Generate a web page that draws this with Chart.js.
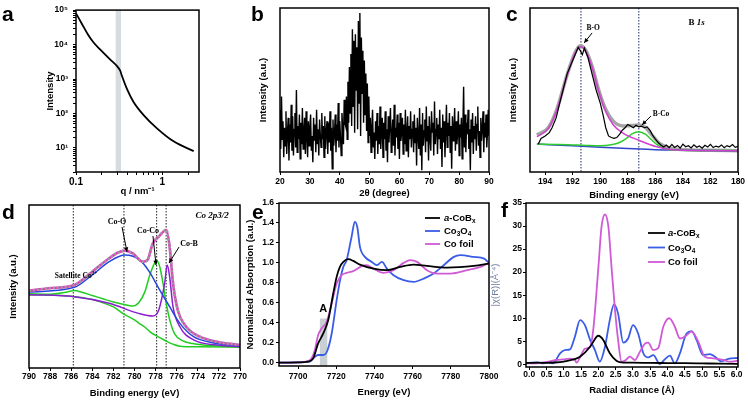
<!DOCTYPE html>
<html><head><meta charset="utf-8">
<script src="https://cdn.jsdelivr.net/npm/chart.js@4.4.1/dist/chart.umd.min.js"></script>
<style>
html,body{margin:0;padding:0;background:#fff;}
#wrap{position:relative;width:748px;height:400px;overflow:hidden;background:#fff;}
canvas{position:absolute;left:0;top:0;}
.lbl{position:absolute;font-family:"Liberation Sans",Arial,sans-serif;font-weight:bold;font-size:21px;line-height:21px;color:#000;}
</style></head><body>
<div id="wrap">
<canvas id="ca" width="748" height="400"></canvas>
<canvas id="cb" width="748" height="400"></canvas>
<canvas id="cc" width="748" height="400"></canvas>
<canvas id="cd" width="748" height="400"></canvas>
<canvas id="ce" width="748" height="400"></canvas>
<canvas id="cf" width="748" height="400"></canvas>
<div class="lbl" style="left:2px;top:3px">a</div>
<div class="lbl" style="left:251px;top:3px">b</div>
<div class="lbl" style="left:506px;top:3px">c</div>
<div class="lbl" style="left:2px;top:201px">d</div>
<div class="lbl" style="left:252px;top:201px">e</div>
<div class="lbl" style="left:501px;top:199px">f</div>
</div>
<script>
// ================= DATA =================
// (a) SAXS
const A_Q = [0.1, 0.116, 0.138, 0.159, 0.19, 0.248, 0.297, 0.325, 0.34, 0.389, 0.464, 0.607, 0.867, 1.35, 2.31];
const A_I = [80500, 41700, 19300, 11700, 7200, 3700, 2400, 1740, 1250, 518, 216, 90, 37, 15.5, 8.05];
const A_BAND_Q = [0.288, 0.332];
const A_X_TICKS = [0.1,0.2,0.3,0.4,0.5,0.6,0.7,0.8,0.9,1,2];
const A_X_LABELS = ['0.1','','','','','','','','','1',''];
const A_Y_DECADES = [10,100,1000,10000,100000];
const A_Y_LABELS = ['10¹','10²','10³','10⁴','10⁵'];

// (b) XRD, 2theta from 20 to 90 in 0.25 deg steps
const B_START = 20, B_STEP = 0.25;
const B_COUNTS = [
38,14,46,20,31,9,27,16,37,11, 24,33,7,29,18,41,13,34,10,26, 36,15,50,12,28,20,35,8,30,17,
39,14,25,33,11,37,21,9,31,16, 27,35,13,22,6,33,19,29,12,38, 17,26,10,32,23,15,36,20,28,9,
34,14,25,31,11,30,18,37,13,27, 2,32,16,23,35,12,29,19,42,15, 31,22,10,36,26,17,44,30,
28,46,20,55,30,64,36,72,28,87, 40,80,24,84,50,76,26,92,42,97, 22,82,48,74,30,68,35,60,25,54, 18,46,22,
33,12,27,38,15,24,8,31,19,36, 11,28,17,40,14,25,33,9,30,20, 37,13,26,6,34,18,29,39,12,23,
32,16,41,10,27,21,35,14,30,8, 36,19,25,33,11,29,17,38,13,24, 34,9,28,20,37,15,26,31,12,35,
18,27,4,33,22,14,39,10,29,1, 36,16,25,32,12,40,19,28,7,34, 21,13,37,24,30,10,43,17,26,33,
11,29,20,38,14,27,3,35,18,31, 9,25,41,15,30,22,36,12,28,2, 34,19,26,39,13,31,17,24,37,10,
29,21,33,8,27,52,15,35,12,30, 23,38,14,26,1,32,18,36,11,28, 20,34,13,29,40,16,25,9,33,19,
27,37,12,30,21,35,15,24,38,22];
const B_X_TICKS = [20,30,40,50,60,70,80,90];

// (c) B 1s XPS
const C_RAW_E = [194.5,194.3,194.0,193.7,193.5,193.2,193.0,192.7,192.4,192.1,191.8,191.6,191.45,191.3,191.15,190.9,190.6,190.3,190.0,
189.8,189.6,189.4,189.2,189.0,188.8,188.6,188.4,188.2,188.0,187.8,187.6,187.4,187.2,187.0,186.8,186.6,186.4,186.2,186.0,185.8,185.6,
185.4,185.2,185.0,184.8,184.6,184.4,184.2,184.0,183.8,183.6,183.4,183.2,183.0,182.8,182.6,182.4,182.2,182.0,181.8,181.6,181.4,181.2,181.0,180.8,180.6,180.4,180.2,180.0];
const C_RAW_V = [17,20.5,22,24,27,33,40,50,60,66,72,76,74,71.5,75.5,70,60,50,42,
35,27,22,21,20.5,21,23,25.5,27,29,28,27,28.5,27.5,28,27,27.5,25.5,22.5,20,18,16.5,
15.2,16.4,14.8,16.8,15.0,16.2,14.6,17.0,15.4,16.0,14.7,16.6,15.1,15.9,14.5,16.3,15.3,16.9,14.9,15.8,15.2,16.5,14.8,16.1,15.4,16.7,15.0,15.6];
const C_FIT_E = [194.6,193.76,193.15,192.43,191.83,191.46,191.1,190.6,190.14,189.65,189.05,188.33,187.8,187.24,186.7,186.2,185.7,185.0,184.3,182,180];
const C_FIT_V = [22.5,27.2,38.2,58.6,72.8,77.0,74.9,64.7,50.8,39.0,31.0,28.0,28.3,28.6,27.0,22.0,17.5,14.8,13.8,13.2,13.0];
const C_BO_E = [194.6,193.76,193.15,192.43,191.83,191.46,191.1,190.6,190.14,189.65,189.05,188.33,187.24,185.9,184.46,180];
const C_BO_V = [21.5,26.6,37.8,58.1,72.4,76.4,74.4,64.2,50,37.8,28.7,23.6,19.5,15.4,13.4,13.0];
const C_BCO_E = [194.6,193,192,191,190,189.2,188.6,188.1,187.7,187.2,186.7,186.3,185.8,185.3,184.5,182,180];
const C_BCO_V = [17.0,16.8,16.5,16.2,16.0,16.6,18.0,20.5,23.2,24.6,23.0,19.8,16.2,14.2,13.3,13.1,13.0];
const C_BG_E = [194.6,192,190,188,186,184,182,180];
const C_BG_V = [17.0,16.0,15.1,14.3,13.6,13.3,13.1,13.0];
const C_LINES = [191.4, 187.2];
const C_X_TICKS = [194,192,190,188,186,184,182,180];

// (d) Co 2p3/2 XPS
const D_EXP_E = [790,788.1,785.7,784.0,782.4,781.5,780.9,780.16,779.2,778.76,778.26,777.7,777.0,776.67,776.35,775.9,775.1,773.8,772.2,770];
const D_EXP_V = [47.4,48.9,50.9,59.1,67.3,71.0,72.0,70.3,65.2,66.3,76.5,80.6,84.7,74.4,52,35.6,25.3,19.2,16.1,14.1];
const D_COO_E = [790,785.7,784.0,782.4,780.9,779.5,778.6,777.7,776.67,775.7,774.4,772.6,770];
const D_COO_V = [46.6,49.5,57.1,65.2,69.3,66.3,59.1,48.9,37.6,27.4,19.2,15.5,13.7];
const D_COB_E = [790,785.7,782.4,779.6,778.26,777.7,777.14,776.9,776.67,776.35,775.7,774.4,772.2,770];
const D_COB_V = [45.0,43.7,39.7,33.5,31.9,35.6,52,63.2,56,37.6,25.3,17.2,14.1,13.1];
const D_COCO_E = [790,788,786.5,785.7,785,784,783,782,781,780.2,779.6,779,778.6,778.2,777.9,777.6,777.3,777.0,776.6,776.2,775.5,774.5,773,770];
const D_COCO_V = [45.5,45.3,46.5,47.5,46.5,44.5,42.5,40.5,39,38,40,47,56,63,66,62,52,40,28,21,17,15,13.8,13.2];
const D_BG_E = [790,788,786,784,783,782,781,780,779.6,779,778.5,777.7,777,776.3,775.7,774,770];
const D_BG_V = [45,44.8,44,42,40,37.5,33,29.5,27.6,25,22,19,16.5,14.5,13.4,13,12.8];
const D_LINES = [785.8, 781.0, 777.9, 777.0];
const D_X_TICKS = [790,788,786,784,782,780,778,776,774,772,770];

// (e) XANES
const E_COBX_E = [7690,7700,7705,7707.9,7710.5,7713.2,7715.8,7718.4,7720.2,7721.9,7723.7,7726.3,7728.9,7732.4,7739.5,7746.5,7753.5,7760.5,7767.5,7778.1,7792.1,7800];
const E_COBX_V = [0,0.003,0.01,0.043,0.193,0.293,0.427,0.693,0.86,0.96,1.01,1.037,1.02,0.983,0.943,0.927,0.96,0.983,0.97,0.953,0.97,0.993];
const E_CO3O4_E = [7690,7700,7706,7708.8,7710.5,7713.2,7715.3,7717.6,7720.2,7722,7723.7,7725.4,7728,7729.7,7731,7732.4,7735,7738.6,7741.2,7743.9,7746.5,7750,7755.3,7760.5,7765.8,7771,7776.3,7781.6,7785,7792.1,7797.4,7800];
const E_CO3O4_V = [0,0.003,0.01,0.06,0.077,0.077,0.12,0.293,0.627,0.827,0.96,1.027,1.26,1.41,1.36,1.16,1.06,1.01,0.977,1.01,0.943,0.877,0.827,0.81,0.843,0.893,0.977,1.06,1.077,1.06,1.043,1.0];
const E_FOIL_E = [7690,7700,7704,7707,7708.8,7710.5,7712.3,7715,7717.6,7720.2,7722.8,7725.4,7728.9,7733.3,7735.9,7739.5,7744.7,7750,7755.3,7758.8,7762.3,7767.5,7772.8,7779.8,7788.6,7795.6,7800];
const E_FOIL_V = [0,0.003,0.01,0.043,0.127,0.277,0.343,0.41,0.593,0.793,0.877,0.9,0.917,0.967,0.977,0.943,0.9,0.927,1.0,1.027,1.01,0.927,0.893,0.893,0.927,0.96,1.0];
const E_BAND = [7711.4, 7715.3, 0.443];
const E_X_TICKS = [7700,7720,7740,7760,7780,7800];
const E_Y_TICKS = [0,0.2,0.4,0.6,0.8,1.0,1.2,1.4,1.6];
const E_Y_LABELS = ['0.0','0.2','0.4','0.6','0.8','1.0','1.2','1.4','1.6'];

// (f) FT-EXAFS
const F_COBX_R = [-0.12,0,0.25,0.5,0.75,1.0,1.08,1.25,1.47,1.76,1.95,2.0,2.14,2.33,2.53,2.72,3.0,3.5,4.0,4.5,5.0,5.5,6.04];
const F_COBX_V = [0.3,0.3,0.35,0.3,0.4,0.6,0.72,1.0,1.66,3.8,6.0,6.2,5.3,2.4,0.72,0.36,0.35,0.3,0.28,0.25,0.2,0.15,0.1];
const F_CO3O4_R = [-0.12,0,0.21,0.4,0.55,0.69,0.89,1.03,1.18,1.32,1.47,1.61,1.76,1.9,2.04,2.19,2.33,2.45,2.57,2.72,2.86,3.0,3.15,3.3,3.44,3.59,3.78,3.92,4.07,4.21,4.36,4.55,4.7,4.84,5.03,5.23,5.37,5.56,5.76,6.04];
const F_CO3O4_V = [0.2,0.3,0.43,0.2,0.5,0.2,2.4,3.1,3.25,6.0,9.6,8.5,5.3,3.1,0.58,3.8,9.6,13.0,11.0,4.7,5.6,8.5,6.7,2.4,1.5,2.0,0.07,1.08,1.9,0.2,2.4,6.7,7.2,5.3,2.0,2.2,1.66,0.65,1.2,1.37];
const F_FOIL_R = [-0.12,0.2,0.55,0.79,0.98,1.18,1.32,1.37,1.51,1.61,1.76,1.85,2.0,2.09,2.19,2.29,2.38,2.48,2.57,2.67,2.77,2.91,3.06,3.2,3.35,3.44,3.59,3.73,3.88,4.05,4.21,4.36,4.5,4.7,4.89,5.08,5.32,5.61,5.8,6.04];
const F_FOIL_V = [0.2,0.2,0.58,0.94,1.08,1.23,0.94,0.36,2.2,3.4,3.8,7.4,21.1,29.8,32.5,29.8,21.1,11.8,5.3,0.58,0.8,1.66,0.94,2.7,4.5,4.7,3.1,3.5,8.2,10.0,8.2,5.6,6.0,7.1,4.9,1.66,1.3,0.94,0.58,0.8];
const F_X_TICKS = [0,0.5,1,1.5,2,2.5,3,3.5,4,4.5,5,5.5,6];
const F_X_LABELS = ['0.0','0.5','1.0','1.5','2.0','2.5','3.0','3.5','4.0','4.5','5.0','5.5','6.0'];
const F_Y_TICKS = [0,5,10,15,20,25,30,35];

// ================= RENDERING =================
const W = 748, H = 400;
const FONT = '"Liberation Sans", Arial, sans-serif';
const SERIF = '"Liberation Serif", "DejaVu Serif", serif';
const TS = 9.5;

function drawRich(ctx, segs, x, yc, size, family, weight, color, align){
  const fnt = (st, sz) => (st.includes('i') ? 'italic ' : '') + (weight||'normal') + ' ' + sz + 'px ' + family;
  let total = 0;
  const parts = segs.map(([t, st]) => {
    st = st || '';
    const sz = (st.includes('s') || st.includes('u')) ? size * 0.68 : size;
    ctx.font = fnt(st, sz);
    const w = ctx.measureText(t).width; total += w;
    return {t, st, sz, w};
  });
  let cx = align === 'left' ? x : align === 'right' ? x - total : x - total / 2;
  const base = yc + size * 0.35;
  ctx.fillStyle = color || '#000';
  ctx.textBaseline = 'alphabetic'; ctx.textAlign = 'left';
  parts.forEach(p => {
    ctx.font = fnt(p.st, p.sz);
    const dy = p.st.includes('s') ? size * 0.22 : p.st.includes('u') ? -size * 0.4 : 0;
    ctx.fillText(p.t, cx, base + dy);
    cx += p.w;
  });
}

const extras = {
  id: 'extras',
  beforeDatasetsDraw(chart, args, o){
    const {ctx, chartArea: a, scales: {x, y}} = chart;
    ctx.save();
    ctx.beginPath(); ctx.rect(a.left, a.top, a.right - a.left, a.bottom - a.top); ctx.clip();
    (o.bands || []).forEach(b => {
      const X0 = x.getPixelForValue(b.x0), X1 = x.getPixelForValue(b.x1);
      const Y0 = b.y0 == null ? a.bottom : y.getPixelForValue(b.y0);
      const Y1 = b.y1 == null ? a.top : y.getPixelForValue(b.y1);
      ctx.fillStyle = b.color;
      ctx.fillRect(Math.min(X0, X1), Math.min(Y0, Y1), Math.abs(X1 - X0), Math.abs(Y1 - Y0));
    });
    (o.vlines || []).forEach(v => {
      const X = x.getPixelForValue(v.x);
      ctx.strokeStyle = v.color; ctx.lineWidth = v.width || 1; ctx.setLineDash(v.dash || []);
      ctx.beginPath(); ctx.moveTo(X, a.top); ctx.lineTo(X, a.bottom); ctx.stroke();
    });
    ctx.restore();
  },
  afterDatasetsDraw(chart, args, o){
    const {ctx, chartArea: a, scales: {x, y}} = chart;
    ctx.save();
    (o.arrows || []).forEach(r => {
      const x0 = x.getPixelForValue(r.x0), y0 = y.getPixelForValue(r.y0);
      const x1 = x.getPixelForValue(r.x1), y1 = y.getPixelForValue(r.y1);
      ctx.strokeStyle = '#000'; ctx.fillStyle = '#000'; ctx.lineWidth = 1;
      ctx.beginPath(); ctx.moveTo(x0, y0); ctx.lineTo(x1, y1); ctx.stroke();
      const ang = Math.atan2(y1 - y0, x1 - x0), L = 5, wd = 0.45;
      ctx.beginPath(); ctx.moveTo(x1, y1);
      ctx.lineTo(x1 - L * Math.cos(ang - wd), y1 - L * Math.sin(ang - wd));
      ctx.lineTo(x1 - L * Math.cos(ang + wd), y1 - L * Math.sin(ang + wd));
      ctx.closePath(); ctx.fill();
    });
    (o.texts || []).forEach(t => {
      drawRich(ctx, t.segs, x.getPixelForValue(t.x), y.getPixelForValue(t.y), t.size, t.family || SERIF, t.weight || 'bold', t.color, t.align);
    });
    if (o.legend){
      const L = o.legend;
      L.items.forEach((it, i) => {
        const yy = a.top + L.dy + i * L.gap;
        const xx = a.left + L.dx;
        ctx.strokeStyle = it.color; ctx.lineWidth = 1.8; ctx.setLineDash([]);
        ctx.beginPath(); ctx.moveTo(xx, yy); ctx.lineTo(xx + L.len, yy); ctx.stroke();
        drawRich(ctx, it.segs, xx + L.len + L.tg, yy, L.size, FONT, 'bold', '#000', 'left');
      });
    }
    ctx.strokeStyle = '#000'; ctx.lineWidth = 1.5; ctx.setLineDash([]);
    ctx.strokeRect(a.left, a.top, a.right - a.left, a.bottom - a.top);
    ctx.restore();
  }
};

function axis(o){
  const ax = {
    type: o.type || 'linear', min: o.min, max: o.max, reverse: !!o.reverse,
    ticks: {display: !!o.ticks, autoSkip: false, maxRotation: 0, minRotation: 0, padding: o.pad == null ? 1 : o.pad, color: '#000',
      font: {family: FONT, size: o.size || 8.5, weight: 'bold'},
      callback: (v, i) => o.labels ? o.labels[i] : String(v)},
    grid: {display: !!o.ticks, drawOnChartArea: false, drawTicks: true, tickLength: o.tl == null ? 3 : o.tl, color: '#000', lineWidth: 1},
    border: {display: false},
    title: {display: !!o.title, text: o.title, color: o.titleColor || '#000', padding: 0,
      font: {family: FONT, size: TS, weight: o.titleWeight || 'bold'}}
  };
  if (o.ticks) ax.afterBuildTicks = s => { s.ticks = o.ticks.map(v => ({value: v})); };
  if (o.callback) ax.ticks.callback = o.callback;
  return ax;
}

function ds(xs, ys, color, width, extra){
  return Object.assign({data: xs.map((x, i) => ({x, y: ys[i]})), borderColor: color, borderWidth: width,
    pointRadius: 0, fill: false, cubicInterpolationMode: 'monotone'}, extra || {});
}

function mk(id, g, xAx, yAx, datasets, ex){
  const lh = TS * 1.2;
  const padL = g.ytx - lh / 2, padB = H - (g.xty + lh / 2);
  xAx.afterFit = s => { s.height = (H - padB) - g.b; };
  yAx.afterFit = s => { s.width = g.l - padL; };
  return new Chart(document.getElementById(id), {
    type: 'line',
    data: {datasets},
    options: {responsive: false, maintainAspectRatio: false, animation: false, devicePixelRatio: 1,
      layout: {padding: {left: padL, top: g.t, right: W - g.r, bottom: padB}},
      scales: {x: xAx, y: yAx},
      plugins: {legend: {display: false}, tooltip: {enabled: false}, extras: ex || {}},
      elements: {point: {radius: 0, hoverRadius: 0}}
    },
    plugins: [extras]
  });
}

// ---- panel a
const aMinor = [];
[1, 10, 100, 1000, 10000].forEach(d => { for (let m = 1; m <= 9; m++) { const v = m * d; if (v >= 2 && v <= 100000) aMinor.push(A_Y_DECADES.includes(v) ? v : Math.round(v)); } });
aMinor.push(100000);
mk('ca', {l: 76, t: 9, r: 199, b: 172, ytx: 50, xty: 191},
  axis({type: 'logarithmic', min: 0.1, max: 2.66, ticks: A_X_TICKS, labels: A_X_LABELS, size: 10, tl: 3, pad: 1, title: 'q / nm⁻¹'}),
  axis({type: 'logarithmic', min: 2.0, max: 100000, ticks: aMinor, tl: 3, pad: 5, title: 'Intensity',
    callback: v => { const i = A_Y_DECADES.indexOf(v); return i >= 0 ? A_Y_LABELS[i] : ''; }}),
  [ds(A_Q, A_I, '#000', 1.8)],
  {bands: [{x0: A_BAND_Q[0], x1: A_BAND_Q[1], color: '#d6dce0'}]});

// ---- panel b
mk('cb', {l: 280, t: 8, r: 489, b: 172, ytx: 263, xty: 193},
  axis({min: 20, max: 90, ticks: B_X_TICKS, tl: 3, pad: 2, title: '2θ (degree)'}),
  axis({min: 0, max: 100, title: 'Intensity (a.u.)'}),
  [ds(B_COUNTS.map((_, i) => B_START + i * B_STEP), B_COUNTS, '#000', 1.4, {cubicInterpolationMode: 'default', tension: 0})]);

// ---- panel c
mk('cc', {l: 530, t: 8, r: 738, b: 172, ytx: 513, xty: 195},
  axis({min: 180, max: 195.1, reverse: true, ticks: C_X_TICKS, tl: 3, pad: 2, title: 'Binding energy (eV)'}),
  axis({min: 0, max: 100, title: 'Intensity (a.u.)'}),
  [ds(C_RAW_E, C_RAW_V, '#000', 1.2, {cubicInterpolationMode: 'default', tension: 0}),
   ds(C_BO_E, C_BO_V, '#d040d0', 1.5),
   ds(C_BCO_E, C_BCO_V, '#2fcc2f', 1.5),
   ds(C_BG_E, C_BG_V, '#3344cc', 1.5),
   ds(C_FIT_E, C_FIT_V, '#a5a5a5', 3.5)],
  {vlines: C_LINES.map(v => ({x: v, color: '#1c2a60', width: 1, dash: [1.5, 1.5]})),
   texts: [
     {x: 190.52, y: 88.4, segs: [['B-O', '']], size: 7.5},
     {x: 185.59, y: 36, segs: [['B-Co', '']], size: 7.5},
     {x: 183.0, y: 91.5, segs: [['B ', ''], ['1s', 'i']], size: 9}],
   arrows: [{x0: 190.59, y0: 84.8, x1: 191.17, y1: 78.7}, {x0: 186.32, y0: 34.1, x1: 186.97, y1: 28.7}]});

// ---- panel d
mk('cd', {l: 29, t: 205, r: 240, b: 368, ytx: 13, xty: 393},
  axis({min: 770, max: 790, reverse: true, ticks: D_X_TICKS, tl: 3, pad: 1, title: 'Binding energy (eV)'}),
  axis({min: 0, max: 100, title: 'Intensity (a.u.)'}),
  [ds(D_EXP_E, D_EXP_V, '#9c9c9c', 2.6, {borderDash: [2, 2]}),
   ds(D_EXP_E, D_EXP_V, '#e040c0', 2.6),
   ds(D_COO_E, D_COO_V, '#2446dc', 1.5),
   ds(D_COB_E, D_COB_V, '#8a1fd0', 1.5),
   ds(D_COCO_E, D_COCO_V, '#22cc22', 1.5),
   ds(D_BG_E, D_BG_V, '#22cc22', 1.5)],
  {vlines: D_LINES.map(v => ({x: v, color: '#222', width: 1, dash: [1.5, 1.5]})),
   texts: [
     {x: 772.65, y: 93.9, segs: [['Co 2p3/2', 'i']], size: 9},
     {x: 781.66, y: 90.2, segs: [['Co-O', '']], size: 8},
     {x: 778.72, y: 84.7, segs: [['Co-Co', '']], size: 8},
     {x: 774.83, y: 76.7, segs: [['Co-B', '']], size: 8},
     {x: 785.55, y: 57.1, segs: [['Satellite Co', ''], ['2+', 'u']], size: 7.5}],
   arrows: [{x0: 781.18, y0: 86.5, x1: 780.71, y1: 71.2}, {x0: 778.25, y0: 81.0, x1: 777.96, y1: 63.2},
            {x0: 775.78, y0: 74.2, x1: 776.73, y1: 64.4}]});

// ---- panel e
mk('ce', {l: 279, t: 203, r: 489, b: 366, ytx: 250, xty: 392},
  axis({min: 7690, max: 7800, ticks: E_X_TICKS, tl: 3, pad: 3, title: 'Energy (eV)'}),
  axis({min: -0.033, max: 1.6, ticks: E_Y_TICKS, labels: E_Y_LABELS, tl: 3, pad: 2, title: 'Normalized Absorption (a.u.)'}),
  [ds(E_COBX_E, E_COBX_V, '#000', 1.8),
   ds(E_FOIL_E, E_FOIL_V, '#d05ad6', 1.8),
   ds(E_CO3O4_E, E_CO3O4_V, '#3a5ce6', 1.8)],
  {bands: [{x0: E_BAND[0], x1: E_BAND[1], y0: -0.033, y1: E_BAND[2], color: '#c9d0d4'}],
   texts: [{x: 7713.2, y: 0.543, segs: [['A', '']], size: 11, family: FONT}],
   legend: {dx: 146, dy: 15, gap: 13, len: 15, tg: 4, size: 9.5, items: [
     {segs: [['a', 'i'], ['-CoB', ''], ['x', 's']], color: '#000'},
     {segs: [['Co', ''], ['3', 's'], ['O', ''], ['4', 's']], color: '#3a5ce6'},
     {segs: [['Co foil', '']], color: '#d05ad6'}]}});

// ---- panel f
mk('cf', {l: 526, t: 203, r: 738, b: 367, ytx: 495, xty: 390},
  axis({min: -0.095, max: 6.04, ticks: F_X_TICKS, labels: F_X_LABELS, tl: 3, pad: 0, title: 'Radial distance (Å)'}),
  axis({min: -0.58, max: 35, ticks: F_Y_TICKS, tl: 3, pad: 1, title: '|χ(R)|(Å⁻⁴)', titleColor: '#6f7fa3', titleWeight: 'normal'}),
  [ds(F_COBX_R, F_COBX_V, '#000', 1.8),
   ds(F_FOIL_R, F_FOIL_V, '#d05ad6', 1.8),
   ds(F_CO3O4_R, F_CO3O4_V, '#3a5ce6', 1.8)],
  {legend: {dx: 122, dy: 30, gap: 14.5, len: 17, tg: 3, size: 9.5, items: [
     {segs: [['a', 'i'], ['-CoB', ''], ['x', 's']], color: '#000'},
     {segs: [['Co', ''], ['3', 's'], ['O', ''], ['4', 's']], color: '#3a5ce6'},
     {segs: [['Co foil', '']], color: '#d05ad6'}]}});
</script>
</body></html>
